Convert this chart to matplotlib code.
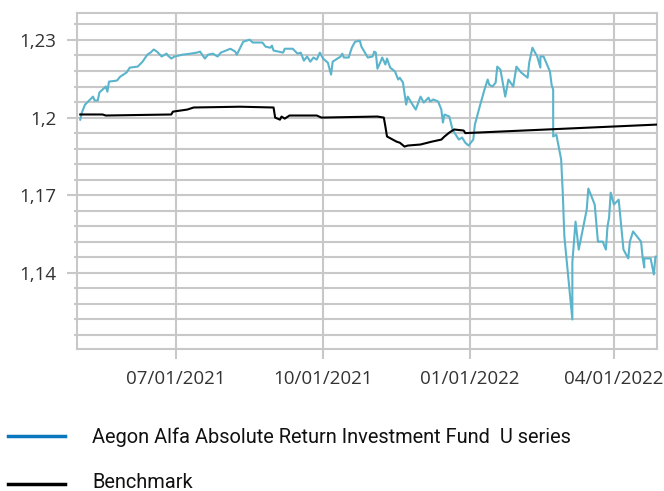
import matplotlib

matplotlib.use("Agg")

import matplotlib.pyplot as plt
import matplotlib.dates as mdates
import pandas as pd
from matplotlib.lines import Line2D
from matplotlib.ticker import FuncFormatter, MultipleLocator

FUND_NAME = "Aegon Alfa Absolute Return Investment Fund  U series"
BENCH_NAME = "Benchmark"

fund_dates = [
    "2021-05-02", "2021-05-03", "2021-05-05", "2021-05-10", "2021-05-11",
    "2021-05-13", "2021-05-14", "2021-05-18", "2021-05-19", "2021-05-20",
    "2021-05-25", "2021-05-27", "2021-05-31", "2021-06-02", "2021-06-07",
    "2021-06-10", "2021-06-13", "2021-06-15", "2021-06-17", "2021-06-19",
    "2021-06-22", "2021-06-25", "2021-06-26", "2021-06-28", "2021-06-30",
    "2021-07-05", "2021-07-10", "2021-07-14", "2021-07-16", "2021-07-19",
    "2021-07-21", "2021-07-24", "2021-07-27", "2021-07-29", "2021-08-04",
    "2021-08-07", "2021-08-08", "2021-08-12", "2021-08-16", "2021-08-18",
    "2021-08-24", "2021-08-26", "2021-08-29", "2021-08-30", "2021-08-31",
    "2021-09-06", "2021-09-07", "2021-09-12", "2021-09-15", "2021-09-17",
    "2021-09-19", "2021-09-21", "2021-09-23", "2021-09-25", "2021-09-27",
    "2021-09-29", "2021-10-01", "2021-10-04", "2021-10-06", "2021-10-07",
    "2021-10-12", "2021-10-13", "2021-10-14", "2021-10-17", "2021-10-19",
    "2021-10-21", "2021-10-24", "2021-10-25", "2021-10-29", "2021-11-01",
    "2021-11-02", "2021-11-03", "2021-11-04", "2021-11-06", "2021-11-07",
    "2021-11-09", "2021-11-10", "2021-11-12", "2021-11-15", "2021-11-17",
    "2021-11-18", "2021-11-20", "2021-11-22", "2021-11-23", "2021-11-26",
    "2021-11-28", "2021-12-01", "2021-12-03", "2021-12-06", "2021-12-07",
    "2021-12-09", "2021-12-12", "2021-12-14", "2021-12-15", "2021-12-16",
    "2021-12-19", "2021-12-21", "2021-12-23", "2021-12-25", "2021-12-27",
    "2021-12-29", "2021-12-31", "2022-01-03", "2022-01-04", "2022-01-07",
    "2022-01-10", "2022-01-12", "2022-01-13", "2022-01-15", "2022-01-17",
    "2022-01-18", "2022-01-20", "2022-01-23", "2022-01-25", "2022-01-28",
    "2022-01-30", "2022-02-02", "2022-02-06", "2022-02-07", "2022-02-09",
    "2022-02-12", "2022-02-14", "2022-02-14", "2022-02-16", "2022-02-20",
    "2022-02-21", "2022-02-22", "2022-02-22", "2022-02-24", "2022-02-27",
    "2022-02-28", "2022-03-01", "2022-03-06", "2022-03-06", "2022-03-08",
    "2022-03-10", "2022-03-15", "2022-03-16", "2022-03-20", "2022-03-22",
    "2022-03-25", "2022-03-27", "2022-03-28", "2022-03-29", "2022-03-30",
    "2022-04-01", "2022-04-04", "2022-04-07", "2022-04-10", "2022-04-11",
    "2022-04-13", "2022-04-18", "2022-04-19", "2022-04-20", "2022-04-20",
    "2022-04-24", "2022-04-26", "2022-04-27", "2022-04-28",
]
fund_values = [
    1.1992, 1.2019, 1.2050, 1.2081, 1.2066,
    1.2066, 1.2097, 1.2120, 1.2100, 1.2139,
    1.2143, 1.2158, 1.2174, 1.2193, 1.2197,
    1.2216, 1.2243, 1.2251, 1.2263, 1.2255,
    1.2236, 1.2247, 1.2239, 1.2228, 1.2236,
    1.2243, 1.2247, 1.2251, 1.2255, 1.2228,
    1.2243, 1.2247, 1.2236, 1.2251, 1.2266,
    1.2255, 1.2243, 1.2293, 1.2301, 1.2290,
    1.2290, 1.2274, 1.2270, 1.2278, 1.2259,
    1.2251, 1.2266, 1.2266, 1.2247, 1.2251,
    1.2220, 1.2236, 1.2216, 1.2232, 1.2224,
    1.2251, 1.2228, 1.2212, 1.2166, 1.2216,
    1.2236, 1.2247, 1.2232, 1.2232, 1.2270,
    1.2293, 1.2297, 1.2274, 1.2232, 1.2236,
    1.2255, 1.2251, 1.2189, 1.2216, 1.2232,
    1.2205, 1.2228, 1.2193, 1.2178, 1.2147,
    1.2154, 1.2135, 1.2050, 1.2081, 1.2050,
    1.2031, 1.2081, 1.2058, 1.2077, 1.2062,
    1.2070, 1.2062, 1.2031, 1.1981, 1.2012,
    1.2004, 1.1954, 1.1934, 1.1915, 1.1923,
    1.1903, 1.1892, 1.1915, 1.1973, 1.2042,
    1.2108, 1.2147, 1.2127, 1.2120, 1.2135,
    1.2197, 1.2185, 1.2081, 1.2147, 1.2120,
    1.2197, 1.2174, 1.2154, 1.2212, 1.2270,
    1.2236, 1.2193, 1.2236, 1.2236, 1.2178,
    1.2127, 1.2108, 1.1927, 1.1934, 1.1838,
    1.1710, 1.1541, 1.1220, 1.1440, 1.1598,
    1.1490, 1.1645, 1.1726, 1.1664, 1.1521,
    1.1521, 1.1490, 1.1579, 1.1614, 1.1710,
    1.1664, 1.1683, 1.1490, 1.1456, 1.1521,
    1.1560, 1.1521, 1.1459, 1.1421, 1.1456,
    1.1456, 1.1394, 1.1463, 1.1463,
]

bench_dates = [
    "2021-05-02", "2021-05-16", "2021-05-18", "2021-06-28", "2021-06-29",
    "2021-07-08", "2021-07-12", "2021-08-10", "2021-08-31", "2021-09-01",
    "2021-09-04", "2021-09-05", "2021-09-07", "2021-09-10", "2021-09-27",
    "2021-09-30", "2021-11-04", "2021-11-08", "2021-11-09", "2021-11-10",
    "2021-11-16", "2021-11-18", "2021-11-21", "2021-11-23", "2021-12-01",
    "2021-12-08", "2021-12-14", "2021-12-16", "2021-12-19", "2021-12-22",
    "2021-12-28", "2021-12-29", "2022-04-28",
]
bench_values = [
    1.2012, 1.2012, 1.2008, 1.2012, 1.2023,
    1.2031, 1.2039, 1.2042, 1.2039, 1.2000,
    1.1992, 1.2004, 1.1996, 1.2008, 1.2008,
    1.2000, 1.2004, 1.2000, 1.1965, 1.1927,
    1.1907, 1.1903, 1.1888, 1.1892, 1.1896,
    1.1907, 1.1915, 1.1927, 1.1942, 1.1954,
    1.1950, 1.1940, 1.1973,
]

x_ticks = ["2021-07-01", "2021-10-01", "2022-01-01", "2022-04-01"]

GRID = "#c8c8c8"
FUND_LINE = "#5ab4cc"
FUND_KEY = "#0a76bd"
TEXT = "#333333"

fig = plt.figure(figsize=(6.64, 4.91), dpi=100)
ax = fig.add_axes([0.116, 0.2892, 0.8735, 0.6843])

ax.plot(pd.to_datetime(fund_dates), fund_values, color=FUND_LINE, lw=1.5, zorder=3)
ax.plot(pd.to_datetime(bench_dates), bench_values, color="black", lw=1.5, zorder=4)

ax.set_xlim(pd.Timestamp("2021-04-30"), pd.Timestamp("2022-04-28"))
ax.set_ylim(1.1106, 1.2404)

ax.yaxis.set_major_locator(MultipleLocator(0.03))
ax.yaxis.set_minor_locator(MultipleLocator(0.006))
ax.yaxis.set_major_formatter(
    FuncFormatter(lambda v, _: f"{round(v, 3):g}".replace(".", ","))
)
ax.set_xticks(pd.to_datetime(x_ticks))
ax.xaxis.set_major_formatter(mdates.DateFormatter("%m/%d/%Y"))

ax.grid(which="both", axis="y", color=GRID, lw=1.5)
ax.grid(which="major", axis="x", color=GRID, lw=1.5)
ax.set_axisbelow(True)
for s in ax.spines.values():
    s.set_color(GRID)
    s.set_linewidth(1.5)

ax.tick_params(which="major", length=7, width=1.5, color=GRID, pad=8,
               labelcolor=TEXT, labelsize=13.5)
ax.tick_params(which="minor", length=2, width=1.5, color=GRID)
for lab in ax.get_xticklabels() + ax.get_yticklabels():
    lab.set_family("Open Sans")

# legend drawn by hand below the plot
for y, base, col, name in [(436, 443, FUND_KEY, FUND_NAME),
                           (484, 488, "black", BENCH_NAME)]:
    yf = 1 - y / 491
    fig.add_artist(Line2D([8 / 664, 65 / 664], [yf, yf], color=col, lw=2.5,
                          transform=fig.transFigure))
    fig.text(92 / 664, 1 - base / 491, name, fontsize=14.4, family="Roboto",
             color="#111111", va="baseline", ha="left")

fig.savefig("out.png", dpi=100)
